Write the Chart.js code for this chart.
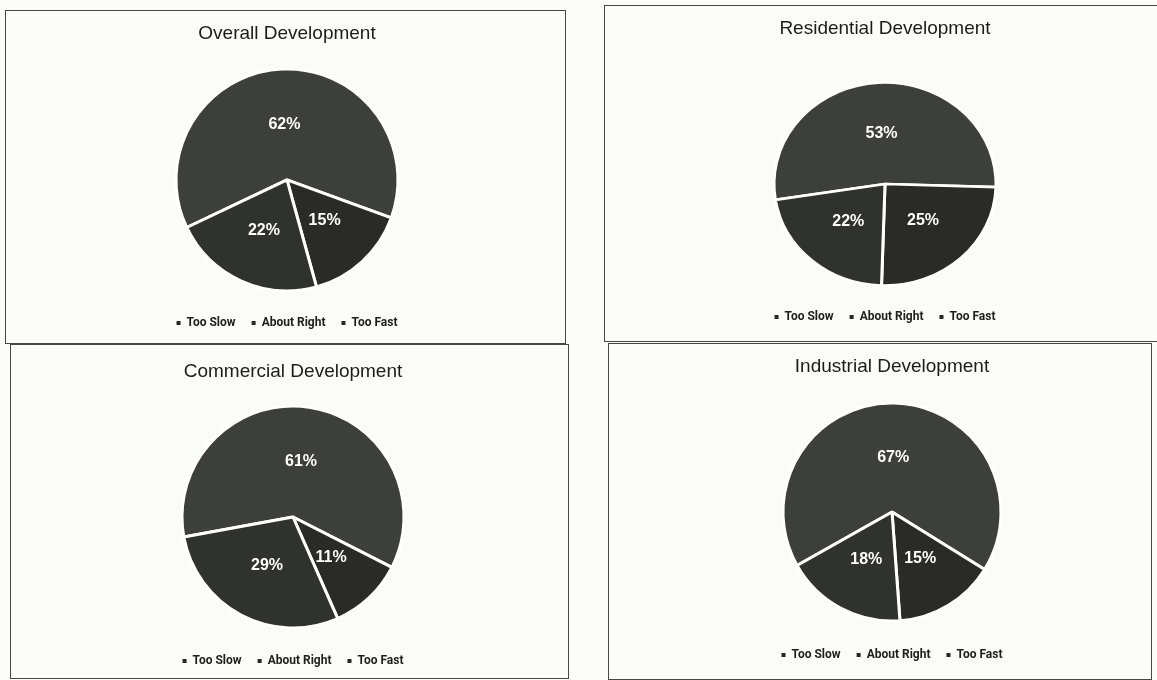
<!DOCTYPE html>
<html>
<head>
<meta charset="utf-8">
<script src="https://cdn.jsdelivr.net/npm/chart.js@4.4.1/dist/chart.umd.min.js"></script>
<style>
  html, body { margin: 0; padding: 0; background: #fbfbfa; }
  body { width: 1157px; height: 680px; position: relative; overflow: hidden; }
  .frame { position: absolute; border: 1.5px solid #464646; box-sizing: border-box; }
  canvas { position: absolute; }
</style>
</head>
<body>
<div class="frame" style="left:5px;top:10px;width:561px;height:334px"></div>
<div class="frame" style="left:604px;top:5px;width:560px;height:337px"></div>
<div class="frame" style="left:10px;top:344px;width:559px;height:335px"></div>
<div class="frame" style="left:608px;top:343px;width:544px;height:337px"></div>

<canvas id="overall" width="500" height="327" style="left:37px;top:12px"></canvas>
<canvas id="residential" width="500" height="325" style="left:635px;top:8px"></canvas>
<canvas id="commercial" width="500" height="327" style="left:43px;top:350px"></canvas>
<canvas id="industrial" width="500" height="325" style="left:642px;top:346px"></canvas>

<script>
// Survey answers, in legend order
const categories = ['Too Slow', 'About Right', 'Too Fast'];
const overallValues = [62, 22, 15];
const residentialValues = [53, 22, 25];
const commercialValues = [61, 29, 11];
const industrialValues = [67, 18, 15];
const chartTitles = ['Overall Development', 'Residential Development', 'Commercial Development', 'Industrial Development'];

// Slices run clockwise as Too Slow, Too Fast, About Right
const sliceOrder = [0, 2, 1];
const sliceColors = ['#3c3f3b', '#30322f', '#2a2b29'];

const panels = [
  { id: 'overall',     values: overallValues,     title: chartTitles[0], rotation: -115.4, radius: 111, squash: 1,     pad: [10, 14] },
  { id: 'residential', values: residentialValues, title: chartTitles[1], rotation: -99,    radius: 111, squash: 0.915, pad: [9.6, 32.6] },
  { id: 'commercial',  values: commercialValues,  title: chartTitles[2], rotation: -100.4, radius: 111, squash: 1,     pad: [10.6, 11.6] },
  { id: 'industrial',  values: industrialValues,  title: chartTitles[3], rotation: -119.4, radius: 109, squash: 1,     pad: [9.6, 12.6] }
];

// Vertical squash of the pie about its centre, plus the percentage labels
const pieLook = {
  id: 'pieLook',
  beforeDatasetsDraw(chart, args, opts) {
    const arc = chart.getDatasetMeta(0).data[0];
    const ctx = chart.ctx;
    ctx.save();
    ctx.translate(arc.x, arc.y);
    ctx.scale(1, opts.squash);
    ctx.translate(-arc.x, -arc.y);
  },
  afterDatasetsDraw(chart, args, opts) {
    const ctx = chart.ctx;
    ctx.restore();
    const meta = chart.getDatasetMeta(0);
    const values = chart.data.datasets[0].data;
    ctx.save();
    ctx.fillStyle = '#ffffff';
    ctx.font = 'bold 16px "Liberation Sans", Arial, sans-serif';
    ctx.textAlign = 'center';
    ctx.textBaseline = 'middle';
    meta.data.forEach((arc, i) => {
      const p = arc.tooltipPosition();
      const y = arc.y + (p.y - arc.y) * opts.squash;
      ctx.fillText(values[i] + '%', p.x, y);
    });
    ctx.restore();
  }
};

panels.forEach(panel => {
  const labels = sliceOrder.map(i => categories[i]);
  const data = sliceOrder.map(i => panel.values[i]);
  const colors = sliceOrder.map(i => sliceColors[i]);

  new Chart(document.getElementById(panel.id), {
    type: 'pie',
    data: {
      labels: labels,
      datasets: [{
        data: data,
        backgroundColor: colors,
        borderColor: '#ffffff',
        borderWidth: 3,
        clip: false
      }]
    },
    options: {
      responsive: false,
      animation: false,
      rotation: panel.rotation,
      radius: panel.radius,
      layout: { padding: 0 },
      plugins: {
        tooltip: { enabled: false },
        pieLook: { squash: panel.squash },
        title: {
          display: true,
          text: panel.title,
          color: '#1c1c1c',
          font: { family: '"Liberation Sans", Arial, sans-serif', size: 19, weight: 'normal', lineHeight: 1.2 },
          padding: { top: panel.pad[0], bottom: panel.pad[1] }
        },
        legend: {
          display: true,
          position: 'bottom',
          labels: {
            color: '#1e1e1e',
            font: { family: 'Roboto, "Liberation Sans", sans-serif', size: 12, weight: 'bold' },
            boxWidth: 4,
            boxHeight: 4,
            padding: 16,
            generateLabels(chart) {
              return categories.map((name, c) => {
                const idx = sliceOrder.indexOf(c);
                return {
                  text: name,
                  fillStyle: '#262626',
                  strokeStyle: 'rgba(0,0,0,0)',
                  lineWidth: 0,
                  fontColor: '#1e1e1e',
                  hidden: !chart.getDataVisibility(idx),
                  index: idx
                };
              });
            }
          }
        }
      }
    },
    plugins: [pieLook]
  });
});
</script>
</body>
</html>
